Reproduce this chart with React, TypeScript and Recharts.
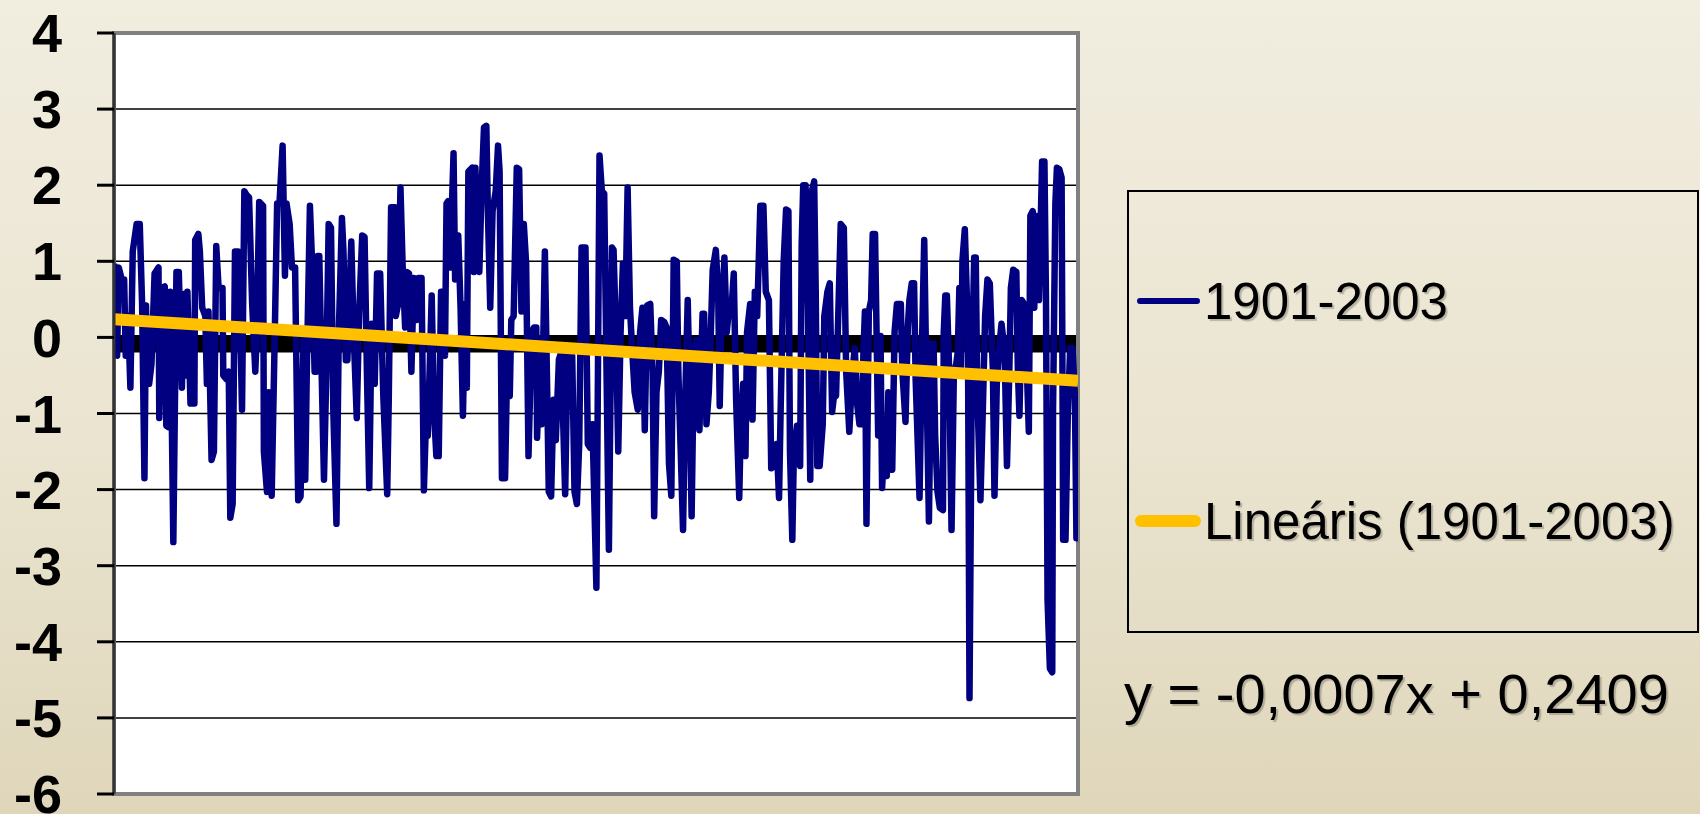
import { LineChart, Line, XAxis, YAxis, CartesianGrid, ReferenceArea } from 'recharts'

// month index (0 = Jan 1901) and anomaly value at turning points
const months = [
  0, 4, 6, 10, 13, 15, 18, 21, 24, 29, 33, 36, 39, 41, 43, 45, 48, 52, 57, 58, 61, 65, 67, 70, 72, 76, 80, 83, 87, 89,
  92, 94, 98, 103, 104, 108, 110, 113, 117, 119, 121, 125, 128, 131, 134, 139, 140, 144, 147, 149, 152, 155, 159, 161,
  164, 167, 170, 173, 177, 181, 183, 186, 191, 192, 196, 198, 200, 202, 206, 209, 212, 216, 219, 221, 225, 228, 232,
  236, 239, 243, 245, 247, 251, 254, 257, 259, 261, 263, 266, 269, 272, 275, 278, 281, 285, 288, 292, 294, 297, 299,
  304, 307, 311, 314,
  318, 321, 324, 327, 330, 334, 337, 341, 345, 350, 352, 355, 360, 361, 364, 367, 370, 373, 375, 378, 381, 384, 388,
  390, 394, 397, 400, 402, 405, 407, 410, 413, 416, 419, 422, 424, 426, 428, 431, 433, 435, 437, 441, 444, 447, 450,
  452, 454, 459, 461, 463, 466, 468, 471, 474, 477, 479, 482, 485, 489, 492, 494, 497, 501, 504, 507, 509, 512, 516,
  519, 522, 525, 528, 531, 535, 538, 541, 542, 545, 548, 552, 555, 557, 560, 563, 566, 570, 573, 578, 581, 584, 587,
  590, 593, 596, 599, 604, 607, 610, 613, 618, 620, 622, 625,
  628, 634, 638, 640, 643, 646, 649, 652, 655, 658, 661, 664, 667, 671, 674, 677, 680, 683, 687, 690, 692, 695, 698,
  701, 705, 708, 711, 714, 717, 721, 723, 725, 729, 732, 735, 737, 740, 743, 746, 750, 754, 756, 759, 762, 764, 767,
  771, 774, 776, 778, 782, 785, 788, 791, 794, 797, 801, 803, 806, 809, 811, 815, 818, 821, 824, 828, 832, 835, 839,
  842, 846, 849, 852, 854, 858, 861, 864, 866, 869, 871, 875, 879, 881, 883, 886, 889, 892, 894, 897, 899, 901, 904,
  908, 910, 914, 917, 920, 923, 925, 928, 931, 935, 938, 942,
  946, 949, 952, 955, 958, 960, 962, 964, 967, 970, 972, 975, 977, 979, 982, 984, 988, 990, 992, 995, 997, 1000, 1003,
  1008, 1010, 1014, 1017, 1019, 1022, 1025, 1027, 1032, 1035, 1038, 1040, 1044, 1047, 1050, 1052, 1055, 1058, 1062,
  1063, 1065, 1067, 1070, 1073, 1076, 1079, 1081, 1083, 1085, 1087, 1090, 1094, 1096, 1099, 1102, 1104, 1106, 1110,
  1113, 1116, 1119, 1122, 1126, 1128, 1131, 1134, 1137, 1141, 1144, 1147, 1149, 1152, 1156, 1158, 1160, 1163, 1166,
  1168, 1172, 1174, 1177, 1179, 1181, 1183, 1185, 1189, 1192, 1194, 1196, 1199, 1202, 1203, 1206, 1208, 1211, 1214,
  1216, 1219, 1222, 1225, 1228, 1231, 1233, 1235,
]

const anomaly = [
  0.97, -0.24, 0.92, 0.76, 0.76, -0.24, 0.28, -0.66, 1.13, 1.49, 1.49, 0.44, -1.85, 0.42, -0.61, -0.61, -0.35, 0.84,
  0.92, -1.06, 0.65, 0.67, -1.16, -1.18, 0.6, -2.69, 0.86, 0.86, -0.66, 0.57, -0.5, 0.6, -0.87, -0.87, 1.28, 1.36,
  1.13, 0.39, 0.28, -0.61, 0.34, -1.61, -1.5, 1.2, 0.65, 0.65, -0.5, -0.55, -0.45, -2.37, -2.19, 1.13, 1.13, 0.5,
  -0.95, 1.92, 1.87, 1.84, 0.44, -0.45, 0.07, 1.78, 1.73, -1.5, -2.03, -0.72, -1.82, -2.08, 0.07, 1.76, 1.76, 2.52,
  0.81, 1.76, 1.49, 0.92, 0.92, -2.14, -2.09, 0.05, -1.87, -0.45, 1.73, 0.92, -0.45, -0.45, 1.07, 1.07, -0.45, -1.87,
  -0.45, 1.49, 1.44, -0.98, -2.45, 0.07, 1.57, 1.13, -0.3, -0.3, 1.26, 0.07, -1.06, 0.3,
  1.34, 1.32, -0.45, -1.98, 0.18, -0.61, 0.84, 0.84, -0.77, -2.06, -0.82, 1.71, 1.71, 0.28, 0.44, 1.97, 0.86, 0.13,
  0.86, 0.84, -0.45, 0.78, 0.23, 0.78, 0.78, -2.01, -0.98, -1.29, -0.19, 0.55, -0.98, -1.56, -1.56, 0.6, 0.6, -0.24,
  1.76, 1.79, 0.92, 1.76, 2.42, 0.76, 1.34, 0.39, -1.03, 0.44, -0.66, 2.18, 2.23, 0.86, 2.23, 1.13, 0.86, 1.97, 2.76,
  2.78, 1.66, 0.39, 1.66, 1.92, 2.52, 2.18, -1.85, -1.85, -0.19, -0.77, 0.23, 0.28, 2.23, 2.21, 0.34, 1.49, 0.97,
  -1.56, 0.07, 0.13, 0.13, -1.32, -0.45, -1.14, 1.13, -0.72, -2.03, -2.09, -0.82, -1.35, -0.29, -0.19, -2.06, -0.19,
  -0.35, -0.24, -2.03, -2.19, -1.4, 1.18, 1.18, -1.4, -1.45, -1.14, -3.29, -0.45, 2.39, 1.92,
  1.89, -2.79, 1.18, 1.15, 0.07, -1.5, 0.07, 0.97, 0.28, 1.97, 0.39, -0.19, -0.72, -0.95, 0.07, 0.39, -1.22, 0.42,
  0.44, -0.45, -2.35, -0.72, -0.45, 0.23, 0.2, 0.13, -1.66, -2.08, 1.02, 1.0, -0.45, -1.14, -2.53, -0.72, 0.49, -0.45,
  -2.35, -0.19, -0.03, -1.22, 0.31, 0.31, -1.14, -0.72, -0.14, 0.89, 1.15, 0.6, -0.9, 0.07, 1.05, 0.07, 0.39, 0.36,
  0.84, -0.82, -2.11, -1.14, -0.61, -1.56, 0.07, 0.44, -1.08, 0.6, 0.28, 1.73, 1.73, 0.6, 0.49, -1.72, -1.69, -1.4,
  -2.11, -0.98, 1.02, 1.68, 1.66, -1.5, -2.66, -1.5, -1.16, -1.69, 1.23, 2.0, 2.0, 0.39, -1.87, 1.92, 2.05, 0.6,
  -1.69, -1.69, -1.14, 0.28, 0.6, 0.71, -0.98, -0.72, -0.77, 0.34, 1.49, 1.44, -0.45, -1.24,
  -0.45, -0.14, -0.87, -1.14, -1.14, -0.24, 0.34, -2.45, 0.34, 0.49, 1.36, 1.36, 0.02, -1.29, 0.02, -1.98, -1.24,
  -1.82, -0.72, -0.77, -1.74, 0.07, 0.44, 0.44, -0.45, -1.11, 0.13, 0.49, 0.71, 0.71, -0.55, -2.11, -0.14, 1.28,
  -0.03, -2.42, -0.08, -0.08, -1.29, -2.03, -2.24, -2.27, 0.07, 0.55, 0.55, -0.45, -2.53, -0.45, -0.35, -0.19, 0.65,
  -0.45, 1.02, 1.42, 0.07, -4.74, -0.45, 1.05, 1.05, -0.72, -2.14, -0.98, 0.28, 0.76, 0.71, -0.45, -2.08, -0.61,
  -0.14, 0.18, -0.19, -1.69, -0.45, 0.65, 0.89, 0.86, -0.45, -1.03, 0.49, 0.44, 0.07, -1.24, 1.6, 1.66, 0.39, 1.6,
  1.13, 0.49, 2.31, 2.31, 0.49, -3.45, -4.35, -4.4, -0.98, 1.76, 2.23, 2.21, 2.1, -2.66, -2.66, -0.98, -0.14, -0.14,
  -0.77, -2.64, -0.78,
]

// linear trend end points (Lineáris)
const trendMonths = [0, 1235]
const trendValues = [0.24, -0.57]

const yTicks = [-6, -5, -4, -3, -2, -1, 0, 1, 2, 3, 4]

const seriesName = '1901-2003'
const trendName = 'Lineáris (1901-2003)'
const equation = 'y = -0,0007x + 0,2409'

const NAVY = '#000080'
const GOLD = '#FFC000'
const FONT = 'Arial, "Liberation Sans", sans-serif'
const SHADOW = '2px 2px 1px rgba(0,0,0,0.22)'

export default function App() {
  const data = months.map((m, i) => ({ month: m, value: anomaly[i] }))
  const trend = trendMonths.map((m, i) => ({ month: m, trend: trendValues[i] }))

  return (
    <div
      style={{
        position: 'absolute',
        left: 0,
        top: 0,
        width: 1700,
        height: 814,
        overflow: 'hidden',
        background: 'linear-gradient(to bottom, #F1EDDF 0%, #EAE4D0 55%, #DFD6BA 100%)',
        fontFamily: FONT,
      }}
    >
      <LineChart
        width={1700}
        height={814}
        data={data}
        margin={{ top: 33, right: 622, bottom: 20, left: 0 }}
        style={{ position: 'absolute', left: 0, top: 0 }}
      >
        <CartesianGrid vertical={false} stroke="#000" strokeWidth={1.5} fill="#fff" fillOpacity={1} />
        <XAxis dataKey="month" type="number" domain={[0, 1235]} hide allowDataOverflow />
        <YAxis
          domain={[-6, 4]}
          ticks={yTicks}
          interval={0}
          width={114}
          tickSize={17}
          tickMargin={35}
          axisLine={{ stroke: '#333', strokeWidth: 3 }}
          tickLine={{ stroke: '#000', strokeWidth: 3 }}
          tick={{ fill: '#000', fontSize: 54, fontWeight: 'bold', fontFamily: FONT }}
          allowDataOverflow
        />
        <ReferenceArea y1={-0.2} y2={0.03} x1={0} x2={1235} fill="#000" fillOpacity={1} stroke="none" />
        <Line
          dataKey="value"
          name={seriesName}
          stroke={NAVY}
          strokeWidth={6.5}
          dot={false}
          activeDot={false}
          strokeLinejoin="round"
          isAnimationActive={false}
        />
        <Line
          data={trend}
          dataKey="trend"
          name={trendName}
          stroke={GOLD}
          strokeWidth={12}
          dot={false}
          activeDot={false}
          isAnimationActive={false}
        />
        <ReferenceArea y1={-6} y2={4} x1={0} x2={1235} fill="none" stroke="#808080" strokeWidth={4} />
      </LineChart>

      {/* legend box */}
      <div
        style={{
          position: 'absolute',
          left: 1127,
          top: 190,
          width: 568,
          height: 439,
          border: '2px solid #000',
        }}
      />
      <div style={{ position: 'absolute', left: 1137, top: 298, width: 63, height: 6, background: NAVY, borderRadius: 3 }} />
      <div style={{ position: 'absolute', left: 1204, top: 301, transform: 'translateY(-50%)', fontSize: 51, lineHeight: 1, color: '#000', textShadow: SHADOW }}>
        {seriesName}
      </div>
      <div style={{ position: 'absolute', left: 1135, top: 515, width: 66, height: 12, background: GOLD, borderRadius: 6 }} />
      <div style={{ position: 'absolute', left: 1204, top: 521, transform: 'translateY(-50%)', fontSize: 51, lineHeight: 1, color: '#000', textShadow: SHADOW }}>
        {trendName}
      </div>
      <div
        style={{
          position: 'absolute',
          left: 1124,
          top: 694,
          transform: 'translateY(-50%)',
          fontSize: 56,
          lineHeight: 1,
          color: '#000',
          whiteSpace: 'pre',
          textShadow: SHADOW,
        }}
      >
        {equation}
      </div>
    </div>
  )
}
